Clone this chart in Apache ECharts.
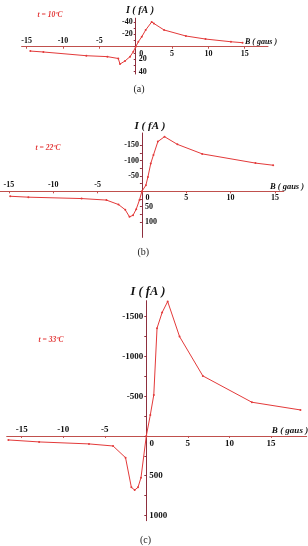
<!DOCTYPE html>
<html style="height: 100%">
<head>
<meta charset="utf-8">
<title>I(B)</title>
<script src="https://cdn.jsdelivr.net/npm/echarts@6/dist/echarts.min.js"></script>
</head>
<body style="height: 100%; margin: 0; background: #fff">
<div id="container" style="width: 308px; height: 546px"></div>
<script type="text/javascript">
// data (B in gaus, I in fA; y axis drawn inverted)
var bA = [-14.5, -12.7, -6.8, -3.9, -2.4, -2.16, -1.47, -0.78, -0.33, 0, 0.36, 0.83, 1.37, 2.2, 2.5, 3.9, 6.9, 9.6, 13.1, 14.7];
var iA = [7, 8.5, 14.5, 16, 19, 28, 23, 16, 8, 0, -8, -16, -27, -40, -37.5, -27, -17.3, -12.4, -8, -6.5];

var bB = [-14.85, -12.8, -6.8, -4.0, -2.64, -1.88, -1.4, -1.0, -0.64, -0.27, 0, 0.45, 0.68, 1.0, 1.3, 1.8, 2.55, 4.0, 6.8, 12.8, 14.8];
var iB = [16, 19, 23.5, 28.5, 43, 60, 83, 78, 58, 28, 0, -20, -47, -91, -118, -162, -178, -153, -122, -92, -85];

var bC = [-16.6, -12.9, -6.9, -4.0, -2.5, -1.8, -1.4, -1.0, -0.64, 0, 0.48, 0.9, 1.29, 1.9, 2.57, 4.0, 6.8, 12.7, 18.55];
var iC = [50, 75, 100, 126, 273, 645, 680, 645, 524, 0, -264, -516, -1355, -1551, -1690, -1249, -755, -424, -327];

var xNeg = [-15, -10, -5];
var xPos = [0, 5, 10, 15];
var yA = [-40, -20, 20, 40];
var yB = [-150, -100, -50, 50, 100];
var yC = [-1500, -1000, -500, 500, 1000];
var temps = ['t = 10ºC', 't = 22ºC', 't = 33ºC'];
var tags = ['(a)', '(b)', '(c)'];

var dom = document.getElementById('container');
var myChart = echarts.init(dom, null, {renderer: 'canvas'});

var serif = '"Liberation Serif", "DejaVu Serif", serif';
var red = '#e33a3a';
var xLineColor = '#c0504d';
var yLineColor = '#8e2f3e';

var panels = [
    {b: bA, i: iA, yt: yA, xmin: -15.7, xmax: 18.2, ymin: -46, ymax: 44, left: 21.6, top: 18.2, width: 246.4, height: 55.8, fs: 8},
    {b: bB, i: iB, yt: yB, xmin: -16, xmax: 16, ymin: -190, ymax: 150, left: 0, top: 133, width: 283.8, height: 104.4, fs: 8},
    {b: bC, i: iC, yt: yC, xmin: -16.8, xmax: 19.3, ymin: -1700, ymax: 1065, left: 6.7, top: 300.7, width: 300, height: 220, fs: 9}
];

var grids = [], xAxes = [], yAxes = [], series = [];
var plain = function (val) { return String(val); };

panels.forEach(function (p, g) {
    grids.push({left: p.left, top: p.top, width: p.width, height: p.height, outerBoundsMode: 'none', containLabel: false});
    // where the zero lines fall inside the grid (axes cross at the origin)
    var zy = p.top + p.height * (0 - p.ymin) / (p.ymax - p.ymin);
    var zx = p.left + p.width * (0 - p.xmin) / (p.xmax - p.xmin);
    var lab = {fontFamily: serif, fontWeight: 'bold', fontSize: p.fs, color: '#111', margin: 2, formatter: plain};
    var yNeg = p.yt.filter(function (v) { return v < 0; });
    var yPosV = p.yt.filter(function (v) { return v > 0; });
    var yTickVals = [];
    var step = p.yt[1] - p.yt[0];
    for (var v = p.yt[0]; v <= p.yt[p.yt.length - 1]; v += step / 2) yTickVals.push(v);

    xAxes.push({
        gridIndex: g, type: 'value', min: p.xmin, max: p.xmax, position: 'bottom',
        offset: -(p.top + p.height - zy),
        axisLine: {onZero: false, lineStyle: {color: xLineColor, width: 1}},
        axisTick: {show: true, customValues: xNeg.concat(xPos), length: 2, lineStyle: {color: xLineColor}},
        axisLabel: Object.assign({}, lab, {
            customValues: xPos, margin: 3,
            formatter: function (val) { return val === 0 ? '{z|0}' : String(val); },
            rich: {z: {padding: [0, 0, 0, 11], fontFamily: serif, fontWeight: 'bold', fontSize: p.fs, color: '#111'}}
        }),
        splitLine: {show: false}
    });
    xAxes.push({
        gridIndex: g, type: 'value', min: p.xmin, max: p.xmax, position: 'top',
        offset: -(zy - p.top),
        axisLine: {show: false, onZero: false},
        axisTick: {show: false},
        axisLabel: Object.assign({}, lab, {customValues: xNeg, margin: 2}),
        splitLine: {show: false}
    });
    yAxes.push({
        gridIndex: g, type: 'value', inverse: true, min: p.ymin, max: p.ymax, position: 'left',
        offset: -(zx - p.left),
        axisLine: {onZero: false, lineStyle: {color: yLineColor, width: 1}},
        axisTick: {show: true, customValues: yTickVals, length: 2, lineStyle: {color: yLineColor}},
        axisLabel: Object.assign({}, lab, {customValues: yNeg, margin: 3}),
        splitLine: {show: false}
    });
    yAxes.push({
        gridIndex: g, type: 'value', inverse: true, min: p.ymin, max: p.ymax, position: 'right',
        offset: -(p.left + p.width - zx),
        axisLine: {show: false, onZero: false},
        axisTick: {show: false},
        axisLabel: Object.assign({}, lab, {customValues: yPosV, margin: 3}),
        splitLine: {show: false}
    });
    series.push({
        type: 'line', xAxisIndex: 2 * g, yAxisIndex: 2 * g,
        data: p.b.map(function (b, k) { return [b, p.i[k]]; }),
        symbol: 'circle', symbolSize: 2, showSymbol: true,
        lineStyle: {color: red, width: 1}, itemStyle: {color: red},
        silent: true
    });
});

function italic(x, y, s, size, color) {
    return {
        type: 'text', x: x, y: y, silent: true,
        style: {text: s, fontFamily: serif, fontStyle: 'italic', fontWeight: 'bold', fontSize: size, fill: color || '#111', align: 'center', verticalAlign: 'middle'}
    };
}
function tag(x, y, s) {
    return {type: 'text', x: x, y: y, silent: true, style: {text: s, fontFamily: serif, fontSize: 10, fill: '#222', align: 'center', verticalAlign: 'middle'}};
}

var graphic = [
    italic(140, 10.7, 'I ( fA )', 10),
    italic(261, 42, 'B ( gaus )', 8),
    italic(50, 14.7, temps[0], 7.5, red),
    italic(150, 126, 'I ( fA )', 11),
    italic(287, 187, 'B ( gaus )', 8.5),
    italic(48, 148.3, temps[1], 7.5, red),
    italic(148, 292, 'I ( fA )', 12.5),
    italic(290, 431, 'B ( gaus )', 9),
    italic(51, 340, temps[2], 7.5, red),
    tag(139, 89, tags[0]),
    tag(143.3, 252, tags[1]),
    tag(145.5, 540, tags[2])
];

var option = {
    animation: false,
    backgroundColor: '#fff',
    grid: grids,
    xAxis: xAxes,
    yAxis: yAxes,
    series: series,
    graphic: graphic
};
myChart.setOption(option);
</script>
</body>
</html>
